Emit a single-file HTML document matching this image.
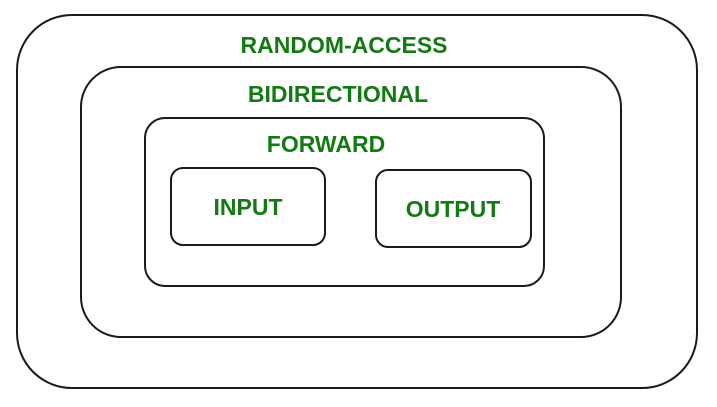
<!DOCTYPE html>
<html><head><style>html,body{margin:0;padding:0;background:#fff}</style></head>
<body>
<svg width="717" height="402" viewBox="0 0 717 402" xmlns="http://www.w3.org/2000/svg">
<g fill="none" stroke="#1a1a1a" stroke-width="2">
<rect x="17" y="15" width="680" height="373" rx="55" ry="55"/>
<rect x="81" y="67" width="540" height="270" rx="40" ry="40"/>
<rect x="145" y="118" width="399" height="168" rx="20" ry="20"/>
<rect x="171" y="168" width="154" height="77" rx="12" ry="12"/>
<rect x="376" y="170" width="155" height="77" rx="12" ry="12"/>
</g>
<g font-family="Liberation Sans, sans-serif" font-weight="bold" font-size="23" fill="#137a13" text-anchor="middle">
<text x="344" y="53">RANDOM-ACCESS</text>
<text x="338" y="102">BIDIRECTIONAL</text>
<text x="326" y="152">FORWARD</text>
<text x="248" y="215">INPUT</text>
<text x="453" y="217">OUTPUT</text>
</g>
</svg>
</body></html>
